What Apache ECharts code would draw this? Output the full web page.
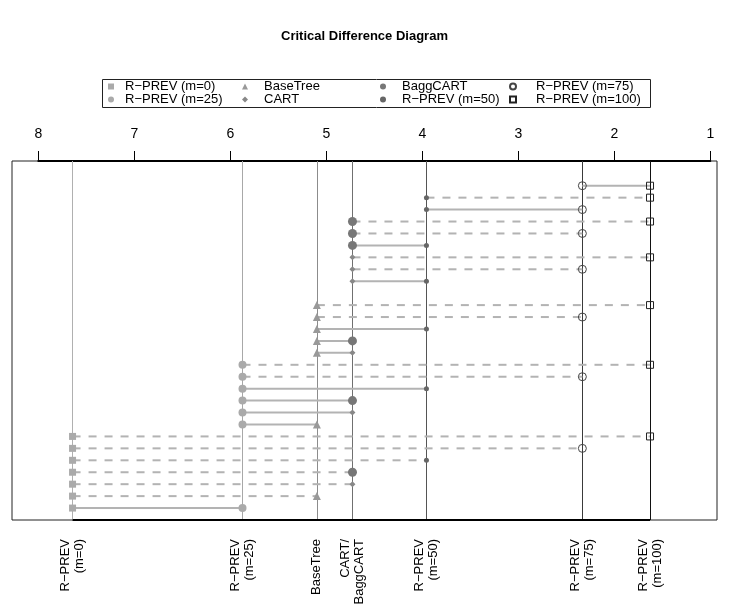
<!DOCTYPE html>
<html>
<head>
<meta charset="utf-8">
<script src="https://cdn.jsdelivr.net/npm/echarts@6/dist/echarts.min.js"></script>
<style>
html,body{margin:0;padding:0;background:#fff;}
#chart{width:729px;height:613px;}
</style>
</head>
<body>
<div id="chart"></div>
<script>
// ---------- data ----------
const algNames = ['R\u2212PREV (m=0)', 'R\u2212PREV (m=25)', 'BaseTree', 'CART', 'BaggCART', 'R\u2212PREV (m=50)', 'R\u2212PREV (m=75)', 'R\u2212PREV (m=100)'];
const avgRanks = [7.646, 5.875, 5.100, 4.729, 4.729, 3.958, 2.333, 1.628];
const topTicks = [1, 2, 3, 4, 5, 6, 7, 8];
// comparisons, top row first (indices into algNames)
const pairFrom = [6, 5, 5, 4, 4, 4, 3, 3, 3, 3, 2, 2, 2, 2, 2, 1, 1, 1, 1, 1, 1, 0, 0, 0, 0, 0, 0, 0];
const pairTo   = [7, 7, 6, 7, 6, 5, 7, 6, 5, 4, 7, 6, 5, 4, 3, 7, 6, 5, 4, 3, 2, 7, 6, 5, 4, 3, 2, 1];
const pairType = ['solid','dashed','solid','dashed','dashed','solid','dashed','dashed','solid','none',
                  'dashed','dashed','solid','solid','solid','dashed','dashed','solid','solid','solid','solid',
                  'dashed','dashed','dashed','dashed','dashed','dashed','solid'];
// legend layout (column-wise, as in the reference)
const legendCols = [[0, 1], [2, 3], [4, 5], [6, 7]];

// ---------- styles ----------
const algStyle = [
  {symbol: 'rect', size: 7, color: '#aaaaaa', border: null, line: '#b0b0b0'},
  {symbol: 'circle', size: 8, color: '#aaaaaa', border: null, line: '#a8a8a8'},
  {symbol: 'triangle', size: 8, color: '#999999', border: null, line: '#8c8c8c'},
  {symbol: 'diamond', size: 6, color: '#888888', border: null, line: '#707070'},
  {symbol: 'circle', size: 9, color: '#777777', border: null, line: '#707070'},
  {symbol: 'circle', size: 5, color: '#666666', border: null, line: '#555555'},
  {symbol: 'circle', size: 8, color: 'rgba(255,255,255,0)', border: '#444444', line: '#3a3a3a'},
  {symbol: 'rect', size: 7, color: 'rgba(255,255,255,0)', border: '#222222', line: '#111111'}
];
const FONT = 'Liberation Sans';
const yMin = -2.07, yMax = 28.0;
const xLo = 0.930, xHi = 8.277;

const series = [];
// bottom axis line (from first to last algorithm, like R's axis())
series.push({
  type: 'line', xAxisIndex: 0, yAxisIndex: 0, silent: true, symbol: 'none', z: 5, clip: false,
  data: [[Math.max(...avgRanks), yMax], [Math.min(...avgRanks), yMax]],
  lineStyle: {color: '#000', width: 2}
});
// comparison segments
pairFrom.forEach((a, k) => {
  const b = pairTo[k];
  if (pairType[k] === 'none') return;
  series.push({
    type: 'line', xAxisIndex: 0, yAxisIndex: 0, silent: true, symbol: 'none', z: 2,
    data: [[avgRanks[a], k], [avgRanks[b], k]],
    lineStyle: {color: '#b3b3b3', width: 2, type: pairType[k] === 'dashed' ? [8, 8] : 'solid'}
  });
});
// markers per algorithm (+ its vertical rank line)
algNames.forEach((name, i) => {
  const pts = [];
  pairFrom.forEach((a, k) => {
    if (pairType[k] === 'none') return;
    if (a === i || pairTo[k] === i) pts.push([avgRanks[i], k]);
  });
  const st = algStyle[i];
  series.push({
    type: 'scatter', name: name, xAxisIndex: 0, yAxisIndex: 0, silent: true, z: 10,
    symbol: st.symbol, symbolSize: st.size,
    itemStyle: {color: st.color, borderColor: st.border || st.color, borderWidth: st.border ? 1 : 0, opacity: 1},
    data: pts,
    markLine: {
      silent: true, symbol: 'none', animation: false, z: 1,
      label: {show: false}, emphasis: {disabled: true},
      lineStyle: {color: st.line, width: 1, type: 'solid'},
      data: [{xAxis: avgRanks[i]}]
    }
  });
});
// dummy series for top axis grid
series.push({type: 'line', xAxisIndex: 1, yAxisIndex: 1, data: [], silent: true});

// bottom labels: group algorithms with identical rank
const labelVals = [];
const labelTexts = [];
avgRanks.forEach((r, i) => {
  const j = labelVals.indexOf(r);
  if (j < 0) { labelVals.push(r); labelTexts.push(algNames[i].replace(' ', '\n')); }
  else { labelTexts[j] = labelTexts[j] + '/\n' + algNames[i]; }
});

const legIconX = [111, 245, 383, 512];
const legTextX = [125, 264, 402, 535];
const ICON = 6;
const legends = legendCols.map((col, c) => ({
  orient: 'vertical',
  left: legIconX[c] - ICON / 2 - 5,
  top: 75,
  itemWidth: ICON,
  itemHeight: ICON,
  itemGap: 0,
  symbolKeepAspect: true,
  selectedMode: false,
  data: col.map(i => algNames[i]),
  textStyle: {fontFamily: FONT, fontSize: 13, color: '#000', lineHeight: 12,
    padding: [0, 0, 0, legTextX[c] - (legIconX[c] + ICON / 2 + 5)]}
}));

const chart = echarts.init(document.getElementById('chart'), null, {renderer: 'canvas'});
chart.setOption({
  animation: false,
  backgroundColor: '#fff',
  title: {
    text: 'Critical Difference Diagram', left: 'center', top: 25,
    textStyle: {fontFamily: FONT, fontSize: 13, fontWeight: 'bold', color: '#000'}
  },
  legend: legends,
  graphic: [{
    type: 'rect', left: 100, top: 77, shape: {width: 548, height: 28},
    style: {fill: 'none', stroke: '#222', lineWidth: 1}, silent: true
  }],
  grid: [
    {left: 12, right: 12, top: 161, bottom: 93, show: true, borderColor: '#222', borderWidth: 1, backgroundColor: 'transparent'},
    {left: 38.3, right: 18.7, top: 161, height: 1, show: false}
  ],
  xAxis: [
    {
      gridIndex: 0, type: 'value', min: xLo, max: xHi, inverse: true, position: 'bottom',
      axisLine: {show: false}, splitLine: {show: false},
      axisTick: {show: true, customValues: labelVals, length: 10, inside: false, lineStyle: {color: '#000', width: 1}},
      axisLabel: {
        show: true, customValues: labelVals, rotate: 90, margin: 19,
        fontFamily: FONT, fontSize: 13, color: '#000', lineHeight: 14,
        formatter: v => {
          let best = 0;
          labelVals.forEach((lv, j) => { if (Math.abs(lv - v) < Math.abs(labelVals[best] - v)) best = j; });
          return labelTexts[best];
        }
      }
    },
    {
      gridIndex: 1, type: 'value', min: 1, max: 8, interval: 1, inverse: true, position: 'top',
      axisLine: {show: true, onZero: false, lineStyle: {color: '#000', width: 2}},
      axisTick: {show: true, length: 10, inside: false, lineStyle: {color: '#000', width: 1}},
      splitLine: {show: false},
      axisLabel: {show: true, margin: 20, fontFamily: FONT, fontSize: 14, color: '#000',
        formatter: v => String(topTicks[topTicks.indexOf(v)])}
    }
  ],
  yAxis: [
    {gridIndex: 0, type: 'value', min: yMin, max: yMax, inverse: true, show: false, splitLine: {show: false}},
    {gridIndex: 1, type: 'value', min: 0, max: 1, show: false, splitLine: {show: false}}
  ],
  series: series
});
</script>
</body>
</html>
